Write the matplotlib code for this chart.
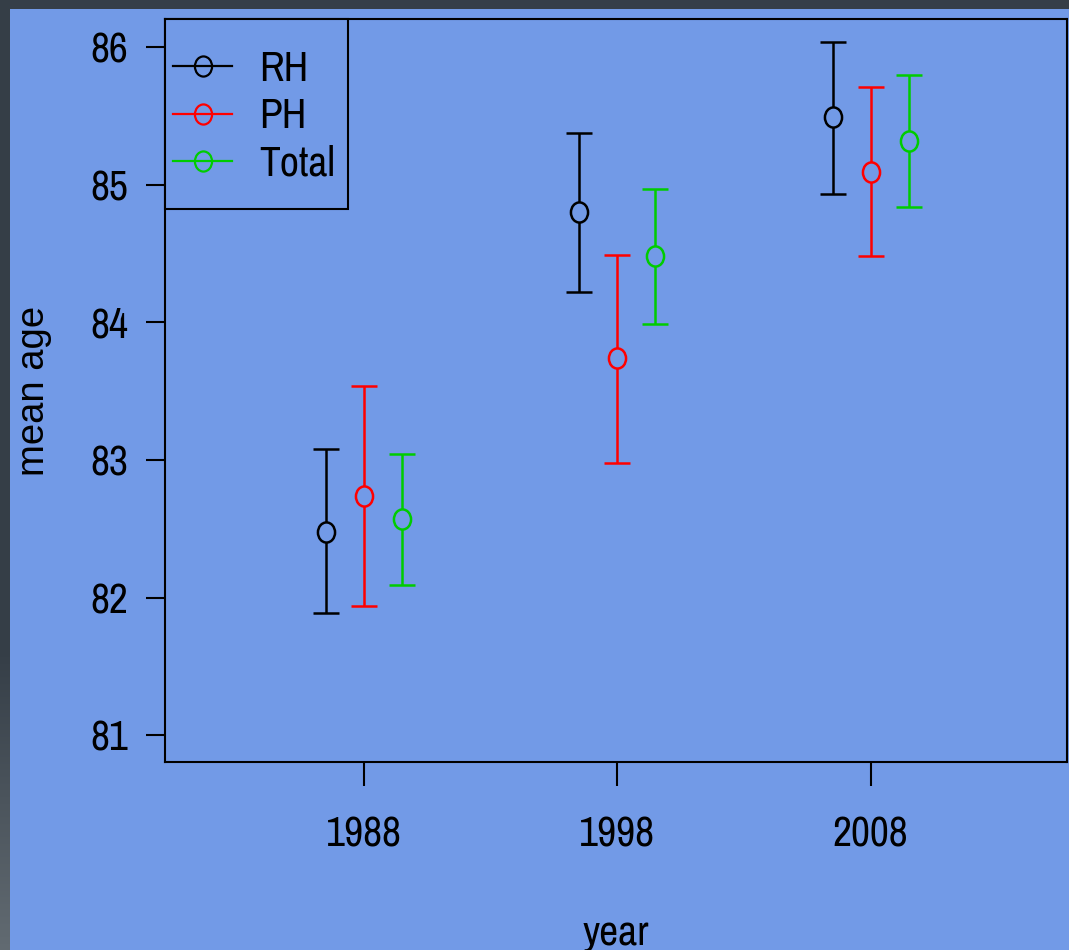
import numpy as np
import matplotlib
matplotlib.use("Agg")
import matplotlib.pyplot as plt
from matplotlib.path import Path
from matplotlib.lines import Line2D
from matplotlib.patches import Rectangle

# values
years = [1988, 1998, 2008]

rh_mean = [82.48, 84.80, 85.49]
rh_low = [81.89, 84.22, 84.93]
rh_high = [83.08, 85.38, 86.04]

ph_mean = [82.74, 83.74, 85.09]
ph_low = [81.94, 82.98, 84.48]
ph_high = [83.54, 84.49, 85.71]

total_mean = [82.57, 84.48, 85.32]
total_low = [82.09, 83.99, 84.84]
total_high = [83.04, 84.97, 85.80]

series_names = ["RH", "PH", "Total"]
series_colors = ["black", "#ff0000", "#00cc00"]
x_offsets = [-1.5, 0.0, 1.5]

BG = "#729ae7"
DARK = "#353e48"
# the screenshot is squeezed sideways, so a narrow face fits the horizontal text
NARROW = ["Archivo Narrow", "Liberation Sans", "DejaVu Sans"]
REGULAR = ["Liberation Sans", "DejaVu Sans"]
FS = 30

# R's circles look slightly squashed in the picture too
circ = Path.unit_circle()
ellipse = Path(circ.vertices * [0.85, 1.0], circ.codes)

W, H = 1069, 950
fig = plt.figure(figsize=(W / 100, H / 100), dpi=100, facecolor=BG)

# dark window border: top band and a left strip that gets lighter near the bottom
fig.patches.append(Rectangle((0, 1 - 9 / H), 1, 9 / H, transform=fig.transFigure,
                             facecolor=DARK, edgecolor="none", zorder=-5))
top_rgb = np.array([0x35, 0x3e, 0x47]) / 255
bot_rgb = np.array([0x62, 0x6b, 0x72]) / 255
t = np.clip((np.arange(H) - 650) / (H - 650), 0, 1)[:, None]
strip = top_rgb * (1 - t) + bot_rgb * t
fig.figimage(np.repeat(strip[:, None, :], 10, axis=1), xo=0, yo=0, origin="upper")

ax = fig.add_axes([165 / W, 1 - 762 / H, (1067 - 165) / W, (762 - 19) / H])
ax.set_facecolor(BG)

data = [(rh_mean, rh_low, rh_high), (ph_mean, ph_low, ph_high),
        (total_mean, total_low, total_high)]

handles = []
for (m, lo, hi), name, col, off in zip(data, series_names, series_colors, x_offsets):
    x = np.array(years) + off
    m = np.array(m)
    err = [m - np.array(lo), np.array(hi) - m]
    ax.errorbar(x, m, yerr=err, fmt="none", ecolor=col, elinewidth=1.8,
                capsize=9.7, capthick=1.8, zorder=2)
    ax.plot(x, m, linestyle="none", marker=ellipse, markersize=14.5,
            markeredgewidth=1.8, markeredgecolor=col, markerfacecolor=BG, zorder=3)
    handles.append(Line2D([], [], color=col, linewidth=1.6, marker=ellipse,
                          markersize=14.5, markeredgewidth=1.6,
                          markerfacecolor="none", label=name))

ax.set_xlim(1980.15, 2015.75)
ax.set_ylim(80.805, 86.205)
ax.set_xticks(years)
ax.set_yticks([81, 82, 83, 84, 85, 86])

for s in ax.spines.values():
    s.set_linewidth(1.5)
    s.set_color("black")

ax.tick_params(axis="y", length=13.7, width=1.5, pad=12.5, labelsize=FS)
ax.tick_params(axis="x", length=17.5, width=1.5, pad=21, labelsize=FS)
for lab in ax.get_xticklabels() + ax.get_yticklabels():
    lab.set_family(NARROW)

ax.set_ylabel("mean age", fontsize=27.5, family=REGULAR, labelpad=27.5)
ax.set_xlabel("year", fontsize=FS, family=NARROW, labelpad=43.5)

# legend box sits in the axes corner, with more room above/below than at the sides
ax_w, ax_h = 1067 - 165, 762 - 19
pad_x, pad_y = 8, 31
leg = ax.legend(handles=handles, loc="upper left", frameon=False,
                bbox_to_anchor=(pad_x / ax_w, 1 - pad_y / ax_h),
                borderaxespad=0, borderpad=0,
                prop={"family": NARROW, "size": FS},
                handlelength=1.42, handletextpad=0.65, labelspacing=0.22)
leg.set_zorder(6)

fig.canvas.draw()
bb = leg.get_window_extent().transformed(ax.transAxes.inverted())
box_right = bb.x1 + 13 / ax_w
box_bottom = bb.y0 - (pad_y - 4) / ax_h
ax.add_patch(Rectangle((0, box_bottom), box_right, 1 - box_bottom, transform=ax.transAxes,
                       facecolor=BG, edgecolor="black", linewidth=1.5, zorder=5,
                       clip_on=False))

fig.savefig("out.png", dpi=100, facecolor=BG)
